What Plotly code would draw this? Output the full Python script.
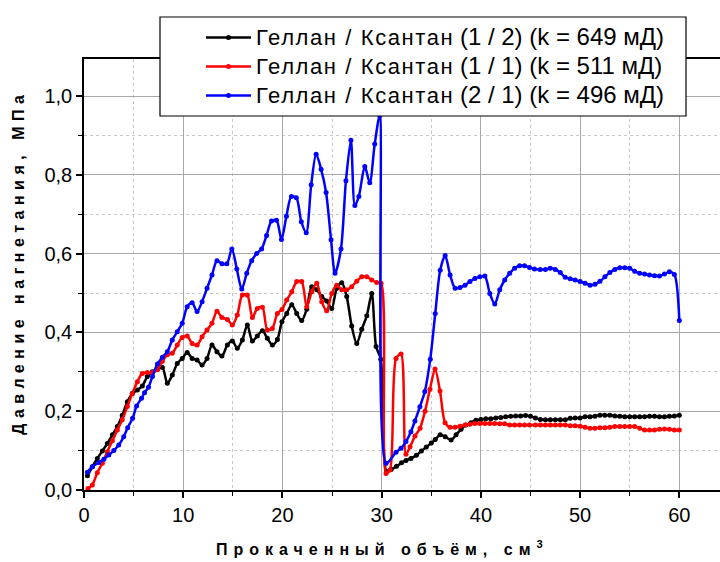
import plotly.graph_objects as go

black_x = [0.34, 0.84, 1.34, 1.85, 2.35, 2.86, 3.36, 3.86, 4.37, 4.87, 5.38, 5.88, 6.38, 6.89, 7.39, 7.9, 8.4, 8.9, 9.4, 9.9,
           10.4, 10.9, 11.4, 11.9, 12.4, 12.9, 13.4, 13.9, 14.45, 14.95, 15.45, 15.96, 16.46, 16.97, 17.47, 17.98, 18.48, 18.98, 19.49, 19.95,
           20.43, 20.94, 21.44, 21.94, 22.45, 22.95, 23.46, 23.96, 24.46, 24.97, 25.47, 25.98, 26.48, 26.98, 27.49, 27.99, 28.5, 29.0, 29.44, 29.91,
           30.5, 30.95, 31.5, 32.0, 32.45, 32.95, 33.5, 34.0, 34.5, 35.0, 35.4, 35.9, 36.4, 37.0, 37.5, 38.0, 38.5, 39.0, 39.5, 40.0,
           40.5, 41.0, 41.5, 42.0, 42.5, 43.0, 43.5, 44.0, 44.5, 45.0, 45.5, 46.0, 46.5, 47.0, 47.5, 48.0, 48.5, 49.0, 49.5, 50.0,
           50.5, 51.0, 51.5, 52.0, 52.5, 53.0, 53.5, 54.0, 54.5, 55.0, 55.5, 56.0, 56.5, 57.0, 57.5, 58.0, 58.5, 59.0, 59.5, 60.0]
black_y = [0.036, 0.059, 0.080, 0.099, 0.118, 0.140, 0.161, 0.190, 0.224, 0.245, 0.254, 0.264, 0.288, 0.300, 0.306, 0.311, 0.271, 0.292, 0.321, 0.334,
           0.349, 0.334, 0.330, 0.317, 0.334, 0.368, 0.351, 0.340, 0.368, 0.378, 0.360, 0.381, 0.419, 0.378, 0.391, 0.404, 0.385, 0.368, 0.382, 0.427,
           0.448, 0.470, 0.448, 0.430, 0.459, 0.516, 0.508, 0.491, 0.480, 0.461, 0.512, 0.526, 0.491, 0.416, 0.372, 0.408, 0.442, 0.499, 0.364, 0.332,
           0.047, 0.052, 0.060, 0.069, 0.075, 0.080, 0.088, 0.099, 0.109, 0.119, 0.128, 0.140, 0.135, 0.127, 0.140, 0.154, 0.165, 0.171, 0.177, 0.179,
           0.181, 0.181, 0.183, 0.184, 0.186, 0.187, 0.188, 0.188, 0.189, 0.187, 0.183, 0.179, 0.178, 0.178, 0.178, 0.178, 0.178, 0.182, 0.183, 0.183,
           0.186, 0.186, 0.187, 0.190, 0.190, 0.190, 0.188, 0.187, 0.186, 0.186, 0.186, 0.186, 0.186, 0.187, 0.187, 0.186, 0.186, 0.187, 0.188, 0.190]

red_x = [0.4, 0.84, 1.34, 1.85, 2.35, 2.86, 3.36, 3.86, 4.37, 4.87, 5.38, 5.88, 6.38, 6.89, 7.39, 7.9, 8.4, 8.9, 9.4, 9.9,
         10.4, 10.9, 11.4, 11.9, 12.4, 12.9, 13.4, 13.9, 14.45, 14.95, 15.45, 15.96, 16.46, 16.97, 17.47, 17.98, 18.48, 18.98, 19.49, 19.95,
         20.43, 20.94, 21.44, 21.94, 22.45, 22.95, 23.46, 23.96, 24.46, 24.97, 25.47, 25.98, 26.48, 26.98, 27.49, 27.99, 28.5, 29.0, 29.5, 29.94,
         30.44, 30.84, 31.45, 31.95, 32.45, 32.86, 33.36, 33.87, 34.37, 34.87, 35.38, 35.88, 36.39, 36.89, 37.4, 37.9, 38.4, 38.9, 39.4, 39.9,
         40.4, 40.9, 41.4, 41.9, 42.4, 42.9, 43.4, 43.9, 44.4, 44.9, 45.5, 46.0, 46.5, 47.0, 47.5, 48.0, 48.5, 49.0, 49.5, 50.0,
         50.5, 51.0, 51.5, 52.0, 52.5, 53.0, 53.5, 54.0, 54.5, 55.0, 55.5, 56.0, 56.5, 57.0, 57.5, 58.0, 58.5, 59.0, 59.5, 60.0]
red_y = [0.004, 0.013, 0.044, 0.068, 0.097, 0.125, 0.152, 0.178, 0.212, 0.245, 0.275, 0.296, 0.298, 0.298, 0.305, 0.327, 0.343, 0.347, 0.368, 0.387,
         0.391, 0.372, 0.368, 0.389, 0.406, 0.423, 0.454, 0.438, 0.433, 0.419, 0.444, 0.495, 0.495, 0.438, 0.461, 0.464, 0.406, 0.410, 0.448, 0.458,
         0.482, 0.503, 0.529, 0.529, 0.465, 0.503, 0.525, 0.478, 0.455, 0.499, 0.520, 0.508, 0.508, 0.516, 0.530, 0.541, 0.541, 0.533, 0.527, 0.525,
         0.042, 0.051, 0.334, 0.345, 0.091, 0.110, 0.137, 0.157, 0.200, 0.256, 0.307, 0.251, 0.171, 0.159, 0.159, 0.162, 0.165, 0.167, 0.169, 0.169,
         0.169, 0.169, 0.169, 0.168, 0.168, 0.165, 0.165, 0.165, 0.165, 0.165, 0.165, 0.165, 0.165, 0.165, 0.165, 0.165, 0.165, 0.163, 0.163, 0.162,
         0.159, 0.157, 0.157, 0.158, 0.158, 0.159, 0.161, 0.161, 0.161, 0.161, 0.161, 0.157, 0.152, 0.152, 0.152, 0.154, 0.155, 0.154, 0.152, 0.152]

blue_x = [0.34, 0.84, 1.5, 2.0, 2.5, 3.0, 3.5, 4.0, 4.4, 4.9, 5.3, 5.8, 6.1, 6.5, 6.9, 7.4, 7.9, 8.4, 8.9, 9.4, 9.9,
          10.4, 10.9, 11.4, 11.9, 12.4, 12.9, 13.4, 13.9, 14.4, 14.9, 15.4, 15.9, 16.4, 16.9, 17.4, 17.9, 18.4, 18.9, 19.4, 19.9,
          20.4, 20.9, 21.4, 21.9, 22.4, 22.9, 23.4, 23.9, 24.4, 24.9, 25.3, 25.9, 26.4, 26.9, 27.3, 27.7, 28.3, 28.8, 29.3, 29.8,
          30.45, 31.45, 31.95, 32.45, 32.95, 33.35, 33.85, 34.35, 34.9, 35.4, 35.9, 36.4, 36.9, 37.4, 37.9, 38.4, 38.9, 39.4, 39.9,
          40.4, 40.9, 41.4, 41.9, 42.4, 42.9, 43.4, 43.9, 44.4, 44.9, 45.4, 45.97, 46.5, 46.98, 47.5, 48.0, 48.5, 49.0, 49.5, 50.0,
          50.5, 51.0, 51.5, 52.0, 52.5, 53.0, 53.5, 54.0, 54.5, 55.0, 55.5, 56.0, 56.5, 57.0, 57.5, 58.0, 58.5, 59.0, 59.5, 60.0]
blue_y = [0.045, 0.059, 0.070, 0.078, 0.089, 0.100, 0.114, 0.135, 0.158, 0.182, 0.213, 0.233, 0.247, 0.261, 0.288, 0.320, 0.337, 0.351, 0.381, 0.402, 0.423,
          0.465, 0.475, 0.453, 0.478, 0.512, 0.546, 0.582, 0.574, 0.574, 0.612, 0.561, 0.510, 0.550, 0.582, 0.600, 0.612, 0.646, 0.683, 0.685, 0.636,
          0.695, 0.745, 0.742, 0.681, 0.653, 0.775, 0.852, 0.814, 0.755, 0.635, 0.550, 0.612, 0.785, 0.888, 0.722, 0.745, 0.821, 0.780, 0.878, 0.950,
          0.068, 0.096, 0.106, 0.123, 0.148, 0.175, 0.211, 0.250, 0.332, 0.448, 0.558, 0.595, 0.546, 0.512, 0.514, 0.520, 0.529, 0.537, 0.541,
          0.543, 0.499, 0.472, 0.508, 0.533, 0.550, 0.563, 0.569, 0.569, 0.565, 0.561, 0.560, 0.560, 0.563, 0.560, 0.552, 0.540, 0.536, 0.533, 0.529,
          0.525, 0.520, 0.522, 0.530, 0.541, 0.552, 0.560, 0.564, 0.564, 0.563, 0.555, 0.550, 0.548, 0.546, 0.544, 0.543, 0.548, 0.554, 0.547, 0.430]

material = "Геллан / Ксантан"
ratios = ["(1 / 2)", "(1 / 1)", "(2 / 1)"]
perms = ["(k = 649 мД)", "(k = 511 мД)", "(k = 496 мД)"]
names = [
    f'<span style="font-size:22px;letter-spacing:1.6px">{material}</span> '
    f'<span style="font-size:24px">{r} {p}</span>'
    for r, p in zip(ratios, perms)
]
colors = ["#000000", "#ff0000", "#0000ff"]

x_ticks = [0, 10, 20, 30, 40, 50, 60]
y_ticks = [0.0, 0.2, 0.4, 0.6, 0.8, 1.0]
y_ticklabels = ["0,0", "0,2", "0,4", "0,6", "0,8", "1,0"]

FONT = "Liberation Sans, Arial, sans-serif"

fig = go.Figure()
for i, (xs, ys) in enumerate([(black_x, black_y), (red_x, red_y), (blue_x, blue_y)]):
    fig.add_trace(go.Scatter(
        x=xs, y=ys, mode="lines+markers", name=names[i], legendgroup=str(i),
        line=dict(color=colors[i], width=2.5, shape="spline", smoothing=0.8),
        marker=dict(color=colors[i], size=5),
    ))

axis_common = dict(
    showline=True, linecolor="black", linewidth=1.5,
    ticks="outside", ticklen=6, tickwidth=1.5, tickcolor="black",
    showgrid=True, gridcolor="#a8a8a8", gridwidth=1.2,
    zeroline=False,
    tickfont=dict(family=FONT, size=20, color="black"),
)

fig.update_xaxes(
    range=[0, 64.1], tickvals=x_ticks, mirror=True,
    minor=dict(dtick=5, tick0=0, ticks="outside", ticklen=4, tickcolor="black", tickwidth=1.2,
               showgrid=True, gridcolor="#c8c8c8", griddash="dot", gridwidth=1),
    **axis_common,
)
fig.update_yaxes(
    range=[0, 1.094], tickvals=y_ticks, ticktext=y_ticklabels,
    minor=dict(dtick=0.1, tick0=0, ticks="outside", ticklen=4, tickcolor="black", tickwidth=1.2,
               showgrid=True, gridcolor="#c8c8c8", griddash="dot", gridwidth=1),
    **axis_common,
)

L, T, W, H = 84, 59, 636, 431
def px2paper(px, py):
    return (px - L) / W, (T + H - py) / H

bx0, by0 = px2paper(160, 116)
bx1, by1 = px2paper(686, 17)
fig.add_shape(type="rect", xref="paper", yref="paper", x0=bx0, y0=by0, x1=bx1, y1=by1,
              line=dict(color="black", width=1.2), fillcolor="white", layer="above")

lx, ly = px2paper(201, 18)
ax_x, ax_y = px2paper(379, 548)
ay_x, ay_y = px2paper(18, 263)

fig.add_annotation(xref="paper", yref="paper", x=ax_x, y=ax_y, xanchor="center", yanchor="middle",
                   text='<span style="letter-spacing:6px">Прокаченный объём, см</span><sup>3</sup>',
                   showarrow=False, font=dict(family=FONT, size=16, color="black", weight="bold"))
fig.add_annotation(xref="paper", yref="paper", x=ay_x, y=ay_y, xanchor="center", yanchor="middle",
                   text='<span style="letter-spacing:5.5px">Давление нагнетания, МПа</span>', textangle=-90,
                   showarrow=False, font=dict(family=FONT, size=16, color="black", weight="bold"))

fig.update_layout(
    width=720, height=562,
    margin=dict(l=L, r=0, t=T, b=562 - T - H, autoexpand=False),
    paper_bgcolor="white", plot_bgcolor="white",
    showlegend=True,
    legend=dict(x=lx, y=ly, xanchor="left", yanchor="top", bgcolor="rgba(0,0,0,0)",
                font=dict(family=FONT, size=20, color="black"), itemwidth=45,
                tracegroupgap=0, traceorder="normal"),
    font=dict(family=FONT, color="black"),
)

fig.write_html("out.html", config={"displayModeBar": False},
               post_script="document.body.style.margin='0px';document.body.style.overflow='hidden';")
